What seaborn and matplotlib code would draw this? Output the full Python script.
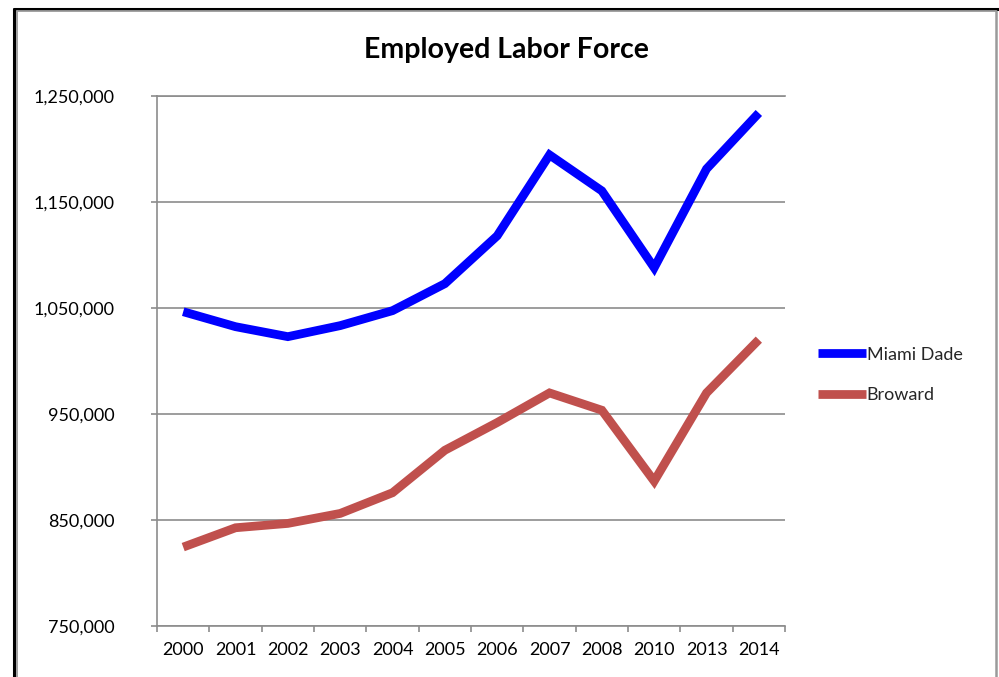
import pandas as pd
import matplotlib.pyplot as plt
import seaborn as sns
from matplotlib.lines import Line2D
from matplotlib.ticker import FixedLocator, FuncFormatter

# Data
years = ["2000", "2001", "2002", "2003", "2004", "2005",
         "2006", "2007", "2008", "2010", "2013", "2014"]
miami_dade = [1046500, 1032400, 1023000, 1033400, 1047500, 1072900,
              1118000, 1194200, 1160300, 1087900, 1181000, 1233700]
broward = [824800, 843000, 847100, 856500, 876000, 916000,
           942100, 970000, 953700, 886900, 970000, 1020200]
y_ticks = [750000, 850000, 950000, 1050000, 1150000, 1250000]

df = pd.DataFrame({
    "pos": list(range(len(years))) * 2,
    "value": miami_dade + broward,
    "series": ["Miami Dade"] * len(years) + ["Broward"] * len(years),
})

sns.set_style("white")
plt.rcParams["font.family"] = ["Lato", "DejaVu Sans"]

grid_gray = "#8c8c8c"

fig = plt.figure(figsize=(9.99, 6.77), dpi=100)
ax = fig.add_axes([0.1572, 0.0746, 0.6286, 0.7841])

sns.lineplot(data=df, x="pos", y="value", hue="series",
             palette={"Miami Dade": "#0000FF", "Broward": "#C0504D"},
             linewidth=6.3, sort=False, ax=ax, legend=True)
for ln in ax.get_lines():
    ln.set_solid_capstyle("butt")
    ln.set_solid_joinstyle("miter")

ax.set_xlim(-0.5, len(years) - 0.5)
ax.set_ylim(750000, 1250000)
ax.set_xlabel("")
ax.set_ylabel("")

# axis styling, Excel look
ax.set_yticks(y_ticks)
ax.yaxis.set_major_formatter(FuncFormatter(lambda v, p: f"{int(v):,}"))
ax.yaxis.grid(True, color=grid_gray, linewidth=1.2)
ax.xaxis.grid(False)
ax.set_xticks(range(len(years)))
ax.set_xticklabels(years)
ax.xaxis.set_minor_locator(FixedLocator([i - 0.5 for i in range(len(years) + 1)]))
ax.tick_params(axis="x", which="major", length=0, pad=11, labelsize=13, labelcolor="black")
ax.tick_params(axis="x", which="minor", length=4.5, width=1.2, color=grid_gray, bottom=True)
ax.tick_params(axis="y", which="major", length=4.5, width=1.2, color=grid_gray,
               pad=26, labelsize=13, labelcolor="black", left=True)
for side in ["left", "bottom", "top"]:
    ax.spines[side].set_color(grid_gray)
    ax.spines[side].set_linewidth(1.2)
ax.spines["right"].set_visible(False)

# legend at the right
handles, labels = ax.get_legend_handles_labels()
ax.get_legend().remove()
for h in handles:
    h.set_linewidth(6.3)
    h.set_solid_capstyle("butt")
fig.legend(handles, labels, loc="center left",
           bbox_to_anchor=(818 / 999, 1 - 375 / 677), frameon=False,
           fontsize=13, handlelength=2.65, handletextpad=0.05,
           labelspacing=1.35, borderaxespad=0, borderpad=0)

fig.text(506 / 999, 1 - 50 / 677, "Employed Labor Force",
         ha="center", va="center", fontsize=20.5, fontweight="bold", color="black")

# chart frame (black outer edge, gray inner edge)
W, H = 999, 677
fig.add_artist(Line2D([14 / W, 1], [1 - 9 / H, 1 - 9 / H], color="black", linewidth=2.2,
                      transform=fig.transFigure))
fig.add_artist(Line2D([14 / W, 14 / W], [0, 1 - 9 / H], color="black", linewidth=2.2,
                      transform=fig.transFigure))
fig.add_artist(Line2D([16.5 / W, 996 / W], [1 - 11 / H, 1 - 11 / H], color="#9a9a9a",
                      linewidth=1.3, transform=fig.transFigure))
fig.add_artist(Line2D([16.5 / W, 16.5 / W], [0, 1 - 11 / H], color="#9a9a9a",
                      linewidth=1.3, transform=fig.transFigure))
fig.add_artist(Line2D([996 / W, 996 / W], [0, 1 - 11 / H], color="#9a9a9a",
                      linewidth=1.8, transform=fig.transFigure))

fig.savefig("out.png", dpi=100)
